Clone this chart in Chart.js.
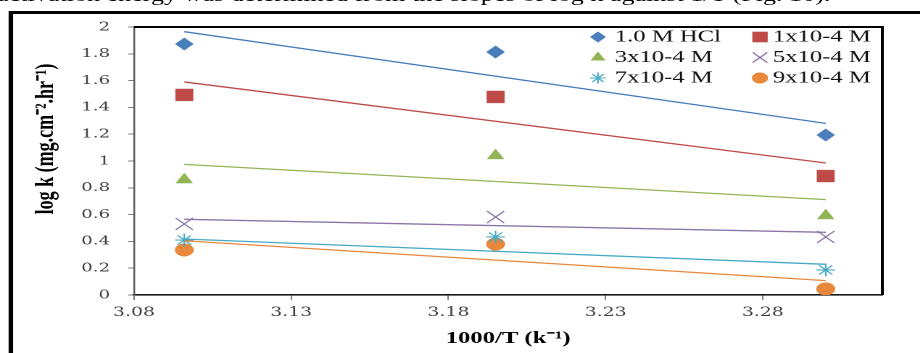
<!DOCTYPE html>
<html>
<head>
<meta charset="utf-8">
<script src="https://cdn.jsdelivr.net/npm/chart.js@4.4.1/dist/chart.umd.min.js"></script>
<style>
html,body{margin:0;padding:0;background:#fff;overflow:hidden;width:920px;height:353px}
/* the source figure is a horizontally stretched scan, so draw narrow and stretch */
#page{position:absolute;left:0;top:0;width:635px;height:353px;transform:scaleX(1.45);transform-origin:0 0}
#para{position:absolute;left:-2px;top:-14px;white-space:nowrap;font:18px/18px "Liberation Serif",serif;color:#000}
#frame{position:absolute;left:5.5px;top:11px;width:700px;height:400px;border:3px solid #000}
#wrap{position:absolute;left:0;top:0;width:635px;height:353px}
</style>
</head>
<body>
<div id="page">
  <div id="para">activation energy was determined from the slopes of log k against 1/T (Fig. 10).</div>
  <div id="frame"></div>
  <div id="wrap"><canvas id="c-arr"></canvas></div>
</div>
<script>
// 1000/T values of the three temperatures
var xTemps = [3.096, 3.195, 3.300];
var seriesNames = ['1.0 M HCl', '1x10-4 M', '3x10-4 M', '5x10-4 M', '7x10-4 M', '9x10-4 M'];

// log k measured points
var logkHCl = [1.873, 1.813, 1.194];
var logk1 = [1.493, 1.478, 0.888];
var logk3 = [0.860, 1.040, 0.592];
var logk5 = [0.530, 0.582, 0.433];
var logk7 = [0.410, 0.433, 0.187];
var logk9 = [0.336, 0.380, 0.045];

// linear trend lines, end points
var fitX = [3.096, 3.300];
var fitHCl = [1.965, 1.281];
var fit1 = [1.590, 0.985];
var fit3 = [0.975, 0.712];
var fit5 = [0.565, 0.468];
var fit7 = [0.418, 0.229];
var fit9 = [0.405, 0.107];

var xTicks = [3.08, 3.13, 3.18, 3.23, 3.28];
var xTickLabels = ['3.08', '3.13', '3.18', '3.23', '3.28'];
var yTicks = [0, 0.2, 0.4, 0.6, 0.8, 1, 1.2, 1.4, 1.6, 1.8, 2];
var yTickLabels = ['0', '0.2', '0.4', '0.6', '0.8', '1', '1.2', '1.4', '1.6', '1.8', '2'];

var series = [logkHCl, logk1, logk3, logk5, logk7, logk9];
var fits = [fitHCl, fit1, fit3, fit5, fit7, fit9];
var colors = ['#4a7ebb', '#be4b48', '#93b555', '#8a76a8', '#46aac5', '#e8883a'];
var styles = ['rectRot', 'rect', 'triangle', 'crossRot', 'star', 'circle'];
var radii = [6.2, 8.4, 6.6, 8.4, 6.4, 6.3];

function pts(xs, ys) {
  return xs.map(function(x, i) { return {x: x, y: ys[i]}; });
}

var datasets = [];
series.forEach(function(s, i) {
  var open = styles[i] == 'crossRot' || styles[i] == 'star';
  datasets.push({label: seriesNames[i], data: pts(xTemps, s), showLine: false, order: 1,
    pointStyle: styles[i], pointRadius: radii[i], pointHoverRadius: radii[i],
    backgroundColor: colors[i], borderColor: colors[i], pointBorderWidth: open ? 1.1 : 0.5});
});
fits.forEach(function(f, i) {
  datasets.push({label: '', data: pts(fitX, f), showLine: true, order: 0,
    pointRadius: 0, borderColor: colors[i], borderWidth: 1.3, fill: false});
});

var figPlugin = {
  id: 'fig',
  afterDraw: function(chart) {
    var a = chart.chartArea, ctx = chart.ctx;
    ctx.save();
    // plot area frame, top and right
    ctx.strokeStyle = '#000';
    ctx.lineWidth = 2;
    ctx.beginPath();
    ctx.moveTo(a.left, a.top); ctx.lineTo(a.right, a.top); ctx.lineTo(a.right, a.bottom);
    ctx.stroke();

    // y axis title
    ctx.save();
    ctx.translate(31.7, 139);
    ctx.rotate(-Math.PI / 2);
    ctx.font = 'bold 18px "Liberation Serif"';
    ctx.fillStyle = '#000';
    ctx.textAlign = 'center';
    ctx.textBaseline = 'middle';
    ctx.fillText('log k (mg.cm\u207B\u00B2.hr\u207B\u00B9)', 0, 0);
    ctx.restore();

    // legend, two columns
    var colMark = [412.4, 524.1], colText = [424, 533], rows = [37, 57.5, 78];
    ctx.font = '17px "Liberation Serif"';
    ctx.textBaseline = 'middle';
    ctx.textAlign = 'left';
    seriesNames.forEach(function(name, i) {
      var c = i % 2, r = Math.floor(i / 2);
      var open = styles[i] == 'crossRot' || styles[i] == 'star';
      ctx.fillStyle = colors[i];
      ctx.strokeStyle = colors[i];
      ctx.lineWidth = open ? 1.1 : 0.5;
      Chart.helpers.drawPoint(ctx, {pointStyle: styles[i], radius: radii[i] * 0.85, rotation: 0, borderWidth: ctx.lineWidth}, colMark[c], rows[r]);
      ctx.fillStyle = '#111';
      ctx.fillText(name, colText[c], rows[r]);
    });
    ctx.restore();
  }
};

new Chart(document.getElementById('c-arr'), {
  type: 'scatter',
  data: {datasets: datasets},
  options: {
    responsive: true, maintainAspectRatio: false, animation: false, devicePixelRatio: 2,
    layout: {padding: {top: 27, right: 26.5, left: 0, bottom: 4}},
    plugins: {legend: {display: false}, tooltip: {enabled: false}},
    scales: {
      x: {
        type: 'linear', min: 3.08, max: 3.318,
        afterBuildTicks: function(s) { s.ticks = xTicks.map(function(v) { return {value: v}; }); },
        afterFit: function(s) { s.height = 54; },
        grid: {drawOnChartArea: false, tickLength: 5, color: '#7f7f7f'},
        border: {color: '#1a1a1a', width: 1.6},
        ticks: {autoSkip: false, maxRotation: 0, padding: 5, color: '#404040',
          font: {family: 'DejaVu Serif', size: 13},
          callback: function(v, i) { return xTickLabels[i]; }},
        title: {display: true, text: '1000/T (k\u207B\u00B9)', color: '#000', padding: 0,
          font: {family: 'Liberation Serif', size: 17, weight: 'bold'}}
      },
      y: {
        min: 0, max: 2,
        afterBuildTicks: function(s) { s.ticks = yTicks.map(function(v) { return {value: v}; }); },
        afterFit: function(s) { s.width = 92.4; },
        grid: {drawOnChartArea: false, tickLength: 4, color: '#7f7f7f'},
        border: {color: '#5a5a5a', width: 1.2},
        ticks: {autoSkip: false, padding: 12.5, color: '#404040',
          font: {family: 'DejaVu Serif', size: 12.5},
          callback: function(v, i) { return yTickLabels[i]; }},
      }
    }
  },
  plugins: [figPlugin]
});
</script>
</body>
</html>
